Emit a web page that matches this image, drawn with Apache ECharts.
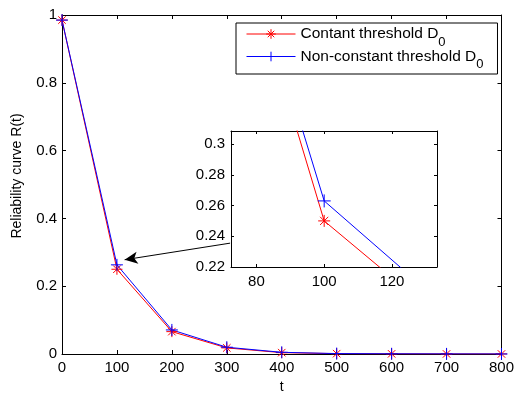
<!DOCTYPE html>
<html>
<head>
<meta charset="utf-8">
<script src="https://cdn.jsdelivr.net/npm/echarts@6/dist/echarts.min.js"></script>
<style>
html,body{margin:0;padding:0;background:#fff;}
#chart{width:517px;height:399px;}
</style>
</head>
<body>
<div id="chart"></div>
<script>
// ---- data ----
const tValues = [0, 100, 200, 300, 400, 500, 600, 700, 800];
const constantD0 = [0.985, 0.250, 0.066, 0.018, 0.004, 0.001, 0.0005, 0.0002, 0.0001];
const nonConstantD0 = [0.985, 0.263, 0.071, 0.020, 0.005, 0.0012, 0.0006, 0.0003, 0.0001];
const seriesNames = ['Contant threshold D', 'Non-constant threshold D'];
const xTicksMain = [0, 100, 200, 300, 400, 500, 600, 700, 800];
const yTicksMain = [0, 0.2, 0.4, 0.6, 0.8, 1];
const xTicksInset = [80, 100, 120];
const yTicksInset = [0.22, 0.24, 0.26, 0.28, 0.3];
const insetXRange = [72.5, 133.3];
const insetYRange = [0.22, 0.3085];
const arrowFrom = [306, 0.327];
const arrowTo = [114, 0.278];

const FONT = 'Liberation Sans, Arial, sans-serif';
const pairs = (ys) => tValues.map((t, i) => [t, ys[i]]);

const starPath = 'path://M0,5L10,5M5,0L5,10M1.6,1.6L8.4,8.4M8.4,1.6L1.6,8.4';
const plusPath = 'path://M0,6L12,6M6,0L6,12';

function axisCommon(extra) {
  return Object.assign({
    axisLine: {show: true, onZero: false, lineStyle: {color: '#000', width: 1}},
    axisTick: {show: true, inside: true, length: 4, lineStyle: {color: '#000'}},
    splitLine: {show: false},
    axisLabel: {color: '#000', fontFamily: FONT, fontSize: 15},
  }, extra);
}

function mkSeries(name, ys, color, symbol, size, xi, yi, withArrow) {
  const s = {
    name: name,
    type: 'line',
    xAxisIndex: xi,
    yAxisIndex: yi,
    data: pairs(ys),
    symbol: symbol,
    symbolSize: size,
    showAllSymbol: true,
    clip: true,
    lineStyle: {color: color, width: 1},
    itemStyle: {color: 'rgba(0,0,0,0)', borderColor: color, borderWidth: 1},
    emphasis: {disabled: true},
    animation: false,
    silent: true
  };
  if (withArrow) {
    s.markLine = {
      silent: true,
      animation: false,
      symbol: ['none', 'arrow'],
      symbolSize: [9, 13],
      label: {show: false},
      lineStyle: {color: '#000', width: 1, type: 'solid'},
      data: [[{coord: arrowFrom}, {coord: arrowTo}]]
    };
  }
  return s;
}

const chart = echarts.init(document.getElementById('chart'), null, {renderer: 'canvas'});
chart.setOption({
  backgroundColor: '#fff',
  animation: false,
  grid: [
    {left: 62, top: 15, width: 441, height: 344},
    {left: 231, top: 131, width: 206, height: 136}
  ],
  legend: {
    data: seriesNames.map(n => ({name: n})),
    orient: 'vertical',
    left: 236,
    top: 23,
    padding: [3, 14, 3, 10],
    itemGap: 0,
    itemWidth: 49,
    itemHeight: 12,
    backgroundColor: '#fff',
    borderColor: '#000',
    borderWidth: 1,
    borderRadius: 0,
    selectedMode: false,
    lineStyle: {width: 1},
    itemStyle: {borderWidth: 1},
    formatter: (n) => n + '{s|0}',
    textStyle: {
      color: '#000', fontFamily: FONT, fontSize: 15.5, padding: [0, 0, 0, 0],
      rich: {s: {fontSize: 13, fontFamily: FONT, color: '#000', padding: [16, 0, 0, 0]}}
    },
    z: 10
  },
  xAxis: [
    axisCommon({type: 'value', gridIndex: 0, position: 'bottom', min: 0, max: 800, interval: 100,
      axisLabel: {color: '#000', fontFamily: FONT, fontSize: 15, margin: 6, customValues: xTicksMain},
      axisTick: {show: true, inside: true, length: 4, lineStyle: {color: '#000'}, customValues: xTicksMain},
      name: 't', nameLocation: 'middle', nameGap: 26,
      nameTextStyle: {color: '#000', fontFamily: FONT, fontSize: 14}}),
    axisCommon({type: 'value', gridIndex: 0, position: 'top', min: 0, max: 800, interval: 100,
      axisLabel: {show: false}}),
    axisCommon({type: 'value', gridIndex: 1, position: 'bottom', min: insetXRange[0], max: insetXRange[1],
      axisLabel: {color: '#000', fontFamily: FONT, fontSize: 15, margin: 7, customValues: xTicksInset},
      axisTick: {show: true, inside: true, length: 3, lineStyle: {color: '#000'}, customValues: xTicksInset}}),
    axisCommon({type: 'value', gridIndex: 1, position: 'top', min: insetXRange[0], max: insetXRange[1],
      axisLabel: {show: false},
      axisTick: {show: true, inside: true, length: 3, lineStyle: {color: '#000'}, customValues: xTicksInset}})
  ],
  yAxis: [
    axisCommon({type: 'value', gridIndex: 0, position: 'left', min: 0, max: 1, interval: 0.2,
      axisLabel: {color: '#000', fontFamily: FONT, fontSize: 15, margin: 5, customValues: yTicksMain},
      axisTick: {show: true, inside: true, length: 4, lineStyle: {color: '#000'}, customValues: yTicksMain},
      name: 'Reliability curve R(t)', nameLocation: 'middle', nameGap: 38,
      nameTextStyle: {color: '#000', fontFamily: FONT, fontSize: 14, padding: [0, 0, 0, 17]}}),
    axisCommon({type: 'value', gridIndex: 0, position: 'right', min: 0, max: 1, interval: 0.2,
      axisLabel: {show: false}}),
    axisCommon({type: 'value', gridIndex: 1, position: 'left', min: insetYRange[0], max: insetYRange[1],
      axisLabel: {color: '#000', fontFamily: FONT, fontSize: 15, margin: 6, customValues: yTicksInset},
      axisTick: {show: true, inside: true, length: 3, lineStyle: {color: '#000'}, customValues: yTicksInset}}),
    axisCommon({type: 'value', gridIndex: 1, position: 'right', min: insetYRange[0], max: insetYRange[1],
      axisLabel: {show: false},
      axisTick: {show: true, inside: true, length: 3, lineStyle: {color: '#000'}, customValues: yTicksInset}})
  ],
  series: [
    mkSeries(seriesNames[0], constantD0, '#ff0000', starPath, 11, 0, 0, true),
    mkSeries(seriesNames[1], nonConstantD0, '#0000ff', plusPath, 12, 0, 0, false),
    mkSeries(seriesNames[0], constantD0, '#ff0000', starPath, 12, 2, 2, false),
    mkSeries(seriesNames[1], nonConstantD0, '#0000ff', plusPath, 13, 2, 2, false)
  ]
});
</script>
</body>
</html>
